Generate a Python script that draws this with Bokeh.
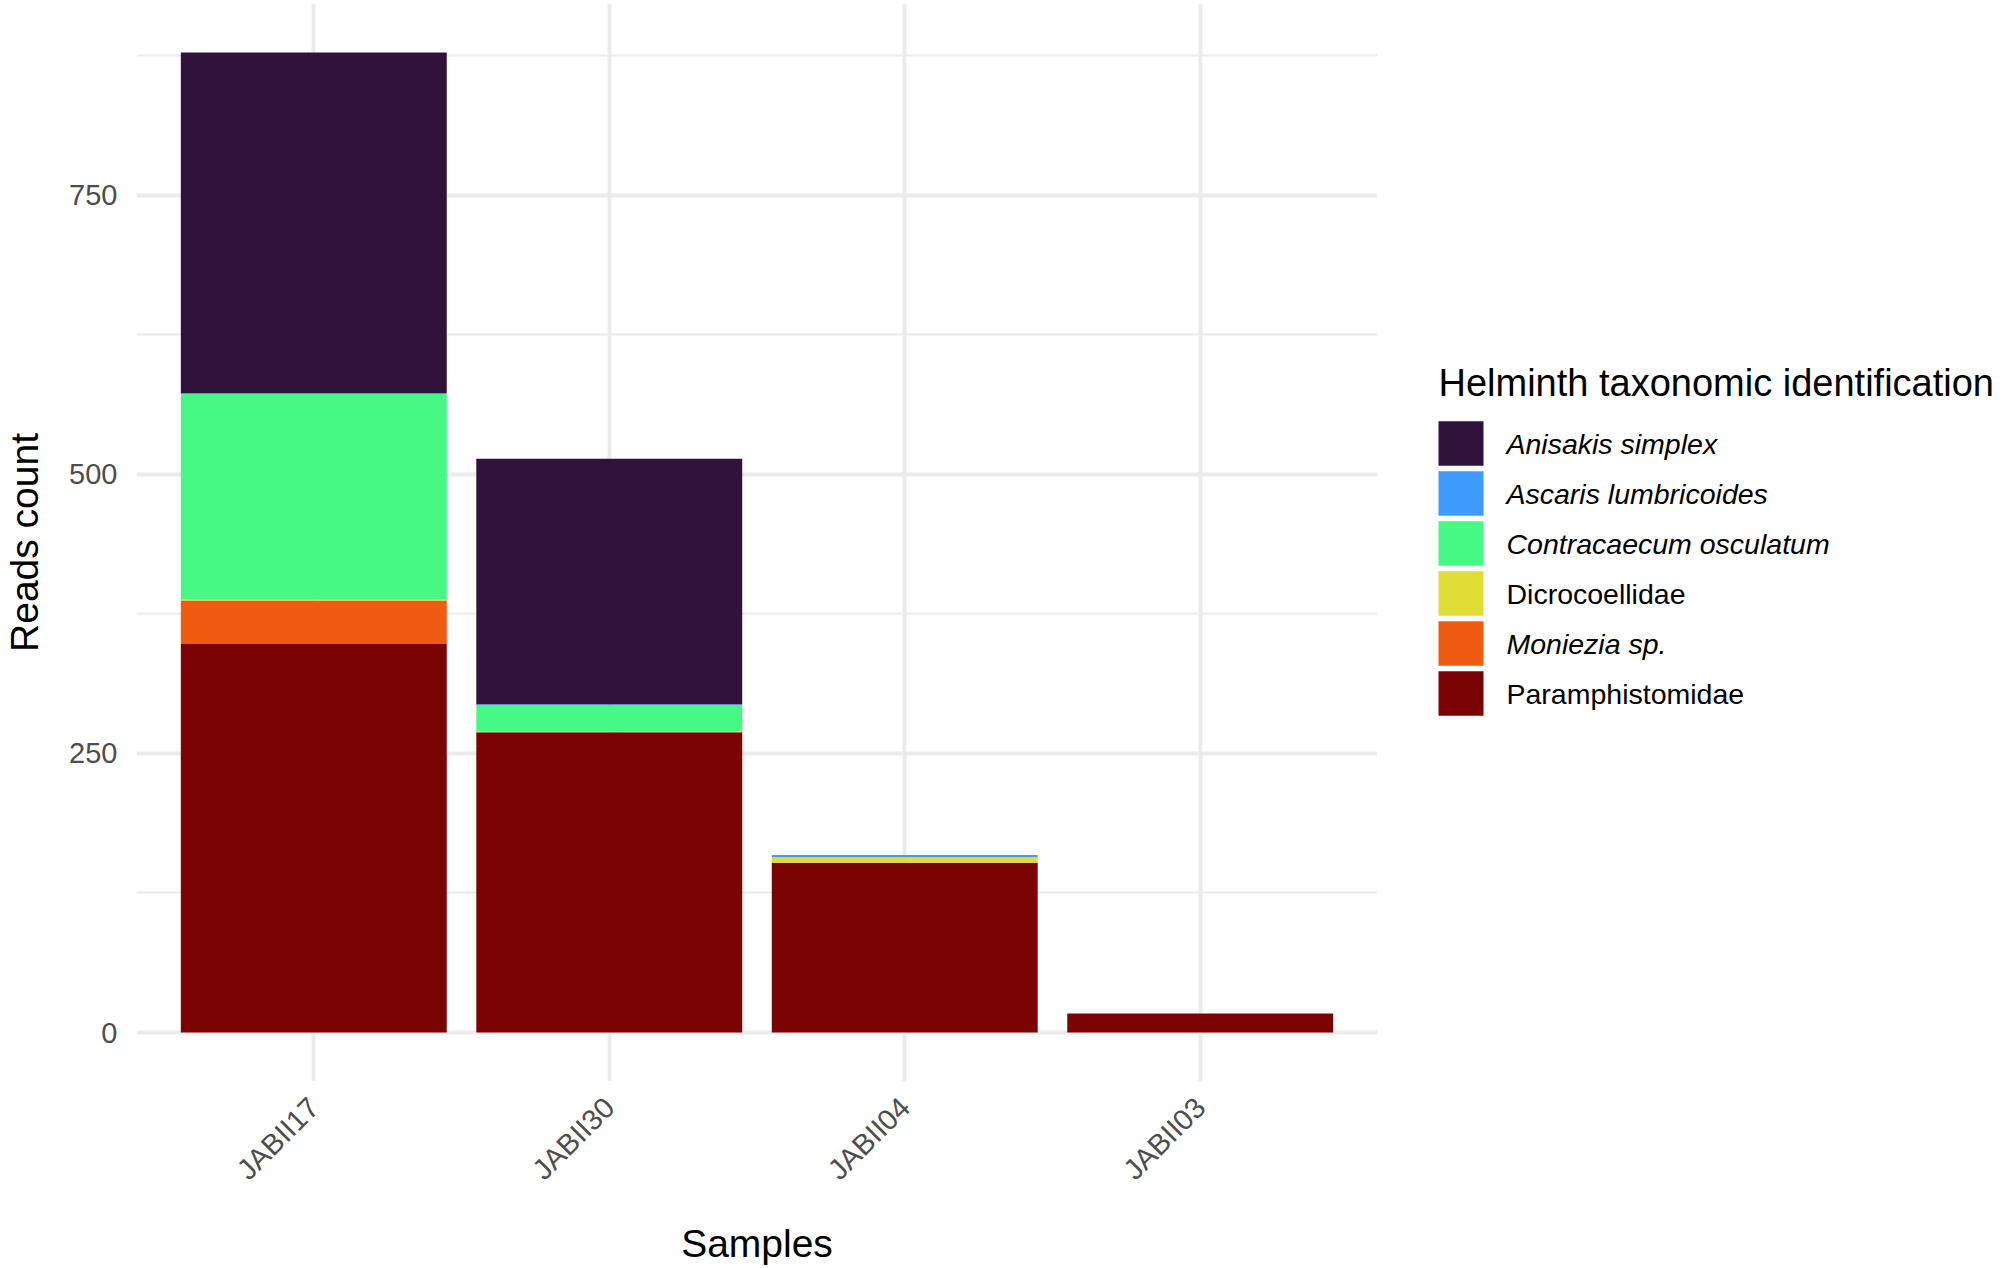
import math
import numpy as np
from bokeh.plotting import figure
from bokeh.models import ColumnDataSource, Range1d, FixedTicker
from bokeh.layouts import row
from bokeh.core.properties import value
from bokeh.embed import file_html
from bokeh.resources import INLINE

# ---- data -------------------------------------------------------------
samples = ["JABII17", "JABII30", "JABII04", "JABII03"]

taxa = ["Anisakis simplex", "Ascaris lumbricoides", "Contracaecum osculatum",
        "Dicrocoellidae", "Moniezia sp.", "Paramphistomidae"]
taxa_italic = [True, True, True, False, True, False]
taxa_colors = ["#30123B", "#3E9BFE", "#46F884", "#E1DD37", "#F05B12", "#7A0403"]

anisakis_simplex = [305, 220, 0, 0]
ascaris_lumbricoides = [1, 1, 2, 0]
contracaecum_osculatum = [184, 23, 0, 0]
dicrocoellidae = [1, 1, 5, 0]
moniezia_sp = [39, 0, 0, 0]
paramphistomidae = [348, 269, 152, 17]

y_ticks = [0, 250, 500, 750]

# ---- styling ----------------------------------------------------------
FONT = "Liberation Sans"
GRID = "#EBEBEB"
FRAME_TOP, FRAME_H = 3, 1078

counts = [anisakis_simplex, ascaris_lumbricoides, contracaecum_osculatum,
          dicrocoellidae, moniezia_sp, paramphistomidae]
x_pos = [i + 1 for i in range(len(samples))]
keys = ["t%d" % i for i in range(len(taxa))]

data = {"x": x_pos}
for k, c in zip(keys, counts):
    data[k] = c
src = ColumnDataSource(data)

totals = np.sum(np.array(counts), axis=0)
ymax = float(totals.max())
pad = 0.05 * ymax

p = figure(frame_width=1241, frame_height=FRAME_H,
           x_range=Range1d(0.4, len(samples) + 0.6),
           y_range=Range1d(-pad, ymax + pad),
           output_backend="svg", toolbar_location=None,
           min_border_left=136, min_border_right=0,
           min_border_top=FRAME_TOP, min_border_bottom=0)
p.outline_line_color = None
p.background_fill_color = "white"
p.border_fill_color = "white"

# stacked bars: first legend entry sits on top of the stack
p.vbar_stack(keys[::-1], x="x", width=0.9, source=src,
             fill_color=taxa_colors[::-1], line_color=None)

# x axis (samples)
x_ticker = FixedTicker(ticks=x_pos)
p.xaxis.ticker = x_ticker
p.xgrid.ticker = x_ticker
p.xaxis.major_label_overrides = {x: s for x, s in zip(x_pos, samples)}
p.xaxis.major_label_orientation = math.pi / 4
p.xaxis.axis_label = "Samples"

# y axis (reads)
minor = [t + 125 for t in y_ticks]
y_ticker = FixedTicker(ticks=y_ticks, minor_ticks=minor)
p.yaxis.ticker = y_ticker
p.ygrid.ticker = y_ticker
p.yaxis.axis_label = "Reads count"

for ax in (p.xaxis[0], p.yaxis[0]):
    ax.axis_line_color = None
    ax.major_tick_line_color = None
    ax.minor_tick_line_color = None
    ax.major_tick_out = 0
    ax.major_tick_in = 0
    ax.minor_tick_out = 0
    ax.minor_tick_in = 0
    ax.major_label_text_font = FONT
    ax.major_label_text_font_size = "29px"
    ax.major_label_text_color = "#4D4D4D"
    ax.axis_label_text_font = FONT
    ax.axis_label_text_font_size = "39px"
    ax.axis_label_text_font_style = "normal"
    ax.axis_label_text_color = "black"

p.yaxis.major_label_standoff = 19
p.yaxis.axis_label_standoff = 20
p.xaxis.major_label_standoff = 21
p.xaxis.axis_label_standoff = 22

p.xgrid.grid_line_color = GRID
p.xgrid.grid_line_width = 4
p.ygrid.grid_line_color = GRID
p.ygrid.grid_line_width = 4
p.ygrid.minor_grid_line_color = GRID
p.ygrid.minor_grid_line_width = 2.2

# ---- legend panel (data units = page pixels) --------------------------
LW = 629
lg = figure(frame_width=LW, frame_height=FRAME_H,
            x_range=Range1d(0, LW), y_range=Range1d(FRAME_TOP + FRAME_H, FRAME_TOP),
            output_backend="svg", toolbar_location=None,
            x_axis_location=None, y_axis_location=None,
            min_border_left=0, min_border_right=0,
            min_border_top=FRAME_TOP, min_border_bottom=0)
lg.outline_line_color = None
lg.grid.visible = False
lg.border_fill_color = "white"

key_x, key_w, key_h, pitch, first_y = 83.5, 45, 44.5, 50, 443
centers = [first_y + pitch * i for i in range(len(taxa))]
lg.rect(x=key_x, y=centers, width=key_w, height=key_h,
        fill_color=taxa_colors, line_color=None)

ital = [i for i, it in enumerate(taxa_italic) if it]
norm = [i for i, it in enumerate(taxa_italic) if not it]
for idx, style in ((ital, "italic"), (norm, "normal")):
    lg.text(x=129, y=[centers[i] for i in idx], text=[taxa[i] for i in idx],
            text_font=value(FONT), text_font_size="28.5px", text_font_style=style,
            text_baseline="middle", text_align="left", text_color="black")

lg.text(x=61, y=382, text=["Helminth taxonomic identification"],
        text_font=value(FONT), text_font_size="38px",
        text_baseline="alphabetic", text_align="left", text_color="black")

layout = row(p, lg)
open("out.html", "w").write(file_html(layout, INLINE))
